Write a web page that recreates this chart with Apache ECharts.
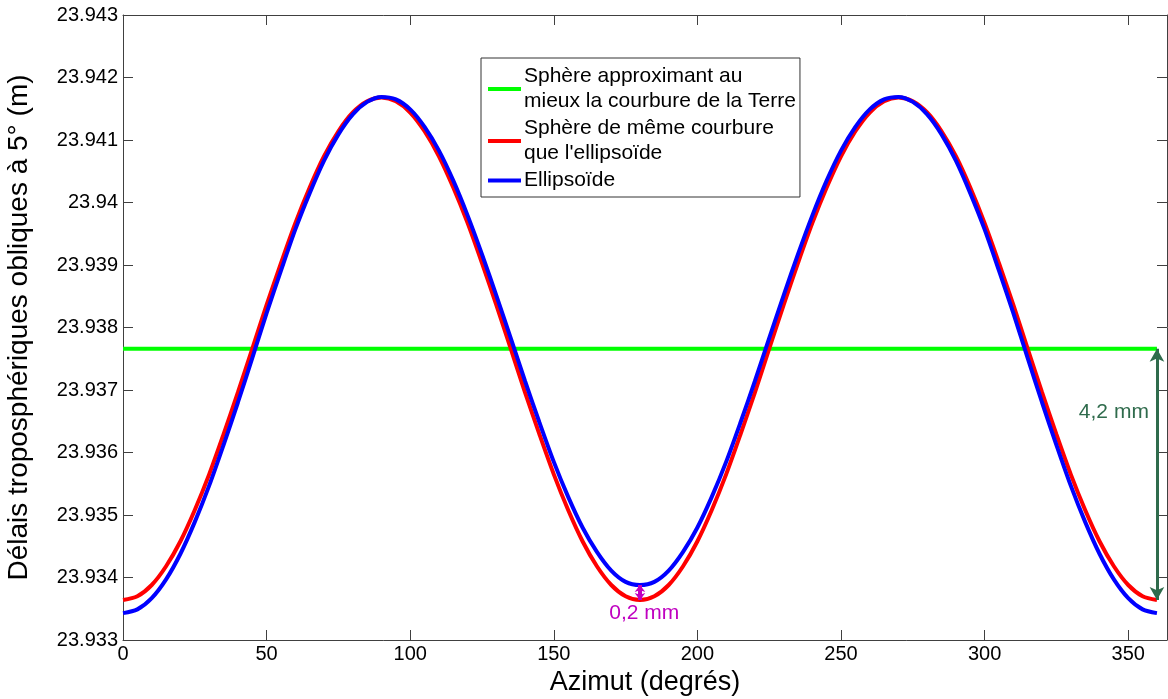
<!DOCTYPE html>
<html>
<head>
<meta charset="utf-8">
<script src="https://cdn.jsdelivr.net/npm/echarts@6/dist/echarts.min.js"></script>
<style>
html,body{margin:0;padding:0;background:#fff;}
#c{width:1168px;height:699px;}
</style>
</head>
<body>
<div id="c"></div>
<script>
// Azimuth (degrees), every 5°
const azimuth = [0,5,10,15,20,25,30,35,40,45,50,55,60,65,70,75,80,85,90,95,100,105,110,115,120,125,130,135,140,145,150,155,160,165,170,175,180,
  185,190,195,200,205,210,215,220,225,230,235,240,245,250,255,260,265,270,275,280,285,290,295,300,305,310,315,320,325,330,335,340,345,350,355,360];
// Sphere of same curvature as the ellipsoid (red)
const sphereSame = [
  23.93364,23.93370,23.93388,23.93418,23.93458,23.93508,23.93565,23.93629,23.93696,23.93766,
  23.93836,23.93903,23.93967,23.94024,23.94074,23.94114,23.94144,23.94162,23.94168,23.94162,
  23.94144,23.94114,23.94074,23.94024,23.93967,23.93903,23.93836,23.93766,23.93696,23.93629,
  23.93565,23.93508,23.93458,23.93418,23.93388,23.93370,23.93364,
  23.93370,23.93388,23.93418,23.93458,23.93508,23.93565,23.93629,23.93696,23.93766,
  23.93836,23.93903,23.93967,23.94024,23.94074,23.94114,23.94144,23.94162,23.94168,23.94162,
  23.94144,23.94114,23.94074,23.94024,23.93967,23.93903,23.93836,23.93766,23.93696,23.93629,
  23.93565,23.93508,23.93458,23.93418,23.93388,23.93370,23.93364];
// Ellipsoid (blue)
const ellipsoid = [
  23.93343,23.93349,23.93367,23.93397,23.93438,23.93489,23.93547,23.93612,23.93680,23.93751,
  23.93823,23.93891,23.93957,23.94015,23.94067,23.94109,23.94141,23.94161,23.94169,23.94165,
  23.94149,23.94121,23.94083,23.94035,23.93979,23.93917,23.93851,23.93783,23.93714,23.93648,
  23.93585,23.93529,23.93480,23.93441,23.93411,23.93393,23.93388,
  23.93393,23.93411,23.93441,23.93480,23.93529,23.93585,23.93648,23.93714,23.93783,
  23.93851,23.93917,23.93979,23.94035,23.94083,23.94121,23.94149,23.94165,23.94169,23.94161,
  23.94141,23.94109,23.94067,23.94015,23.93957,23.93891,23.93823,23.93751,23.93680,23.93612,
  23.93547,23.93489,23.93438,23.93397,23.93367,23.93349,23.93343];
// Best-fit sphere (green)
const bestX = [0, 360];
const bestY = [23.93766, 23.93766];

const names = ['Sphère approximant au\nmieux la courbure de la Terre',
               "Sphère de même courbure\nque l'ellipsoïde",
               'Ellipsoïde'];
const annotBig = '4,2 mm';
const annotSmall = '0,2 mm';

const FONT = 'Liberation Sans, Arial, sans-serif';
const axisCol = '#404040';
const pairs = (xs, ys) => xs.map((x, i) => [x, ys[i]]);
const yFmt = v => String(parseFloat(v.toFixed(3)));
const iEnd = azimuth.length - 1;
const i180 = azimuth.indexOf(180);

const chart = echarts.init(document.getElementById('c'), null, {renderer: 'canvas'});
chart.setOption({
  animation: false,
  backgroundColor: '#fff',
  grid: {left: 123, top: 15, right: 1, bottom: 59, containLabel: false, outerBoundsMode: 'none'},
  legend: {
    orient: 'vertical', left: 481, top: 58,
    itemWidth: 33, itemHeight: 4, itemGap: 2,
    selectedMode: false,
    data: names.map(n => ({name: n, icon: 'rect'})),
    textStyle: {fontFamily: FONT, fontSize: 21, lineHeight: 25, color: '#000', padding: [0,0,0,-2]},
    borderColor: '#333', borderWidth: 1, backgroundColor: '#fff',
    padding: [6, 4, 4, 7]
  },
  xAxis: [{
    type: 'value', min: 0, max: 363.5, interval: 50,
    name: 'Azimut (degrés)', nameLocation: 'middle', nameGap: 27,
    nameTextStyle: {fontFamily: FONT, fontSize: 27, color: '#000'},
    axisLine: {onZero: false, lineStyle: {color: axisCol, width: 1}},
    axisTick: {inside: true, length: 10, lineStyle: {color: axisCol}},
    axisLabel: {fontFamily: FONT, fontSize: 20, color: '#000', margin: 4,
      showMaxLabel: false},
    splitLine: {show: false}
  }, {
    type: 'value', position: 'top', min: 0, max: 363.5, interval: 50,
    axisLine: {onZero: false, lineStyle: {color: axisCol, width: 1}},
    axisTick: {inside: true, length: 10, lineStyle: {color: axisCol}},
    axisLabel: {show: false}, splitLine: {show: false}
  }],
  yAxis: [{
    type: 'value', min: 23.933, max: 23.943, interval: 0.001,
    name: 'Délais troposphériques obliques à 5° (m)', nameLocation: 'middle', nameGap: 90,
    nameTextStyle: {fontFamily: FONT, fontSize: 28, color: '#000'},
    axisLine: {onZero: false, lineStyle: {color: axisCol, width: 1}},
    axisTick: {inside: true, length: 10, lineStyle: {color: axisCol}},
    axisLabel: {fontFamily: FONT, fontSize: 20, color: '#000', margin: 5, formatter: yFmt},
    splitLine: {show: false}
  }, {
    type: 'value', position: 'right', min: 23.933, max: 23.943, interval: 0.001,
    axisLine: {onZero: false, lineStyle: {color: axisCol, width: 1}},
    axisTick: {inside: true, length: 10, lineStyle: {color: axisCol}},
    axisLabel: {show: false}, splitLine: {show: false}
  }],
  series: [{
    name: names[0], type: 'line', showSymbol: false, symbol: 'none',
    data: pairs(bestX, bestY),
    lineStyle: {color: '#00ff00', width: 4}, itemStyle: {color: '#00ff00'},
    z: 2,
    markLine: {
      silent: true, symbol: ['arrow', 'arrow'], symbolSize: [11, 13],
      lineStyle: {color: '#2f6b4c', width: 3, type: 'solid'},
      label: {show: false},
      data: [[{coord: [bestX[1], bestY[1]]}, {coord: [azimuth[iEnd], sphereSame[iEnd]]}]]
    },
    markPoint: {
      silent: true, symbol: 'circle', symbolSize: 0,
      label: {show: true, position: 'inside', formatter: annotBig, fontFamily: FONT, fontSize: 21, color: '#2f6b4c'},
      data: [{coord: [345, 23.93664]}]
    }
  }, {
    name: names[1], type: 'line', showSymbol: false, symbol: 'none', smooth: 0.3,
    data: pairs(azimuth, sphereSame),
    lineStyle: {color: '#ff0000', width: 4}, itemStyle: {color: '#ff0000'},
    z: 3
  }, {
    name: names[2], type: 'line', showSymbol: false, symbol: 'none', smooth: 0.3,
    data: pairs(azimuth, ellipsoid),
    lineStyle: {color: '#0000ff', width: 4}, itemStyle: {color: '#0000ff'},
    z: 4,
    markLine: {
      silent: true, symbol: ['arrow', 'arrow'], symbolSize: [8, 7],
      lineStyle: {color: '#c000c0', width: 4, type: 'solid'},
      label: {show: false},
      data: [[{coord: [azimuth[i180], sphereSame[i180]]}, {coord: [azimuth[i180], ellipsoid[i180]]}]]
    },
    markPoint: {
      silent: true, symbol: 'circle', symbolSize: 0,
      label: {show: true, position: 'inside', formatter: annotSmall, fontFamily: FONT, fontSize: 21, color: '#c000c0'},
      data: [{coord: [181.5, 23.93343]}]
    }
  }]
});
</script>
</body>
</html>
